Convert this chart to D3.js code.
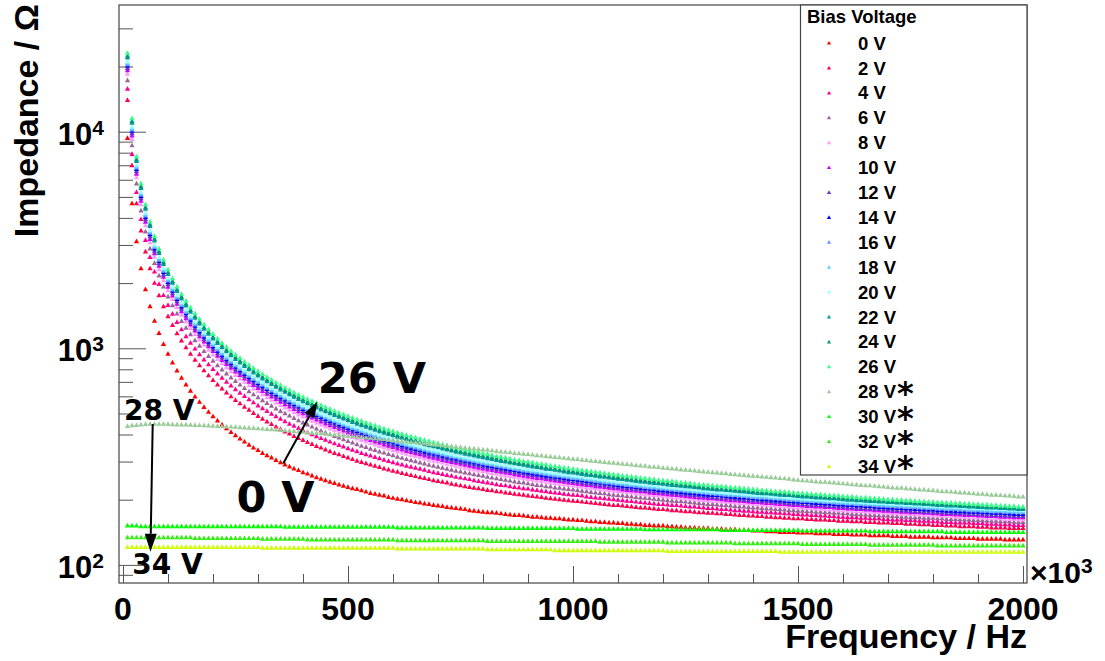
<!DOCTYPE html>
<html>
<head>
<meta charset="utf-8">
<script src="https://d3js.org/d3.v7.min.js"></script>
<style>
body { margin: 0; background: #ffffff; }
</style>
</head>
<body>
<script>
// bias voltages, one graph each
var volts = [0, 2, 4, 6, 8, 10, 12, 14, 16, 18, 20, 22, 24, 26, 28, 30, 32, 34];
var colours = ["#ff0000", "#ff0050", "#ff0090", "#9a659a", "#ff99ff", "#cc00ff", "#6633cc", "#0000ff", "#6699ff",
               "#66ccff", "#99ffff", "#009999", "#009977", "#33ff88", "#99cc99", "#00ff00", "#33ee11", "#ccff00"];
var starred = [28, 30, 32, 34];   // legend entries with the asterisk

// frequency sweep in kHz (x axis is x10^3 Hz)
var freqKHz = d3.range(10, 2001, 10);

var xMajor = [0, 500, 1000, 1500, 2000];
var xLabels = ["0", "500", "1000", "1500", "2000"];
var yMajor = [100, 1000, 10000];
var yExp = ["2", "3", "4"];

// impedance in Ohm, one value per frequency point
var z0 = [9350,4680,3120,2340,1875,1564,1342,1176,1047,944,
860,790,731,681,637,599,566,536,509,486,
464,445,427,411,397,383,371,359,348,339,
329,321,313,305,298,291,285,279,274,268,
264,259,254,250,246,242,239,235,232,229,
226,224,221,218,215,213,211,209,206,204,
202,201,199,197,195,194,192,191,189,188,
187,185,184,183,182,181,179,178,177,176,
175,175,174,173,172,171,170,170,169,168,
167,167,166,165,165,164,164,163,162,162,
161,161,160,159,159,158,158,157,157,156,
156,155,155,154,154,153,153,152,152,152,
151,151,150,150,149,149,149,148,148,148,
147,147,147,146,146,146,145,145,145,144,
144,144,143,143,143,142,142,142,142,141,
141,141,141,140,140,140,140,139,139,139,
139,138,138,138,138,137,137,137,137,137,
136,136,136,136,135,135,135,135,135,134,
134,134,134,134,133,133,133,133,133,132,
132,132,132,132,132,131,131,131,131,131];

var z2 = [14000,7000,4670,3500,2800,2340,2005,1756,1562,1407,
1281,1175,1086,1010,944,886,835,791,750,714,
681,652,625,600,577,557,537,520,503,487,
473,459,447,435,424,413,404,394,385,377,
369,362,354,348,341,335,329,324,318,313,
308,303,299,295,291,287,283,279,276,272,
269,266,263,260,257,254,252,249,246,244,
242,240,237,235,233,231,229,227,226,224,
222,221,219,218,216,215,213,212,211,209,
208,207,206,204,203,202,201,200,199,198,
197,196,195,194,193,192,191,190,189,189,
188,187,186,185,184,184,183,182,181,181,
180,179,179,178,177,177,176,175,175,174,
174,173,173,172,172,171,170,170,169,169,
168,168,167,167,166,166,165,165,164,164,
164,163,163,162,162,162,161,161,160,160,
160,159,159,159,158,158,158,157,157,157,
156,156,156,155,155,155,154,154,154,153,
153,153,152,152,152,151,151,151,151,150,
150,150,149,149,149,149,148,148,148,148];

var z4 = [15800,7900,5270,3950,3163,2640,2260,1980,1761,1586,
1443,1324,1223,1138,1062,997,940,889,843,802,
765,732,701,673,647,624,602,582,563,545,
529,514,499,486,473,461,449,439,429,419,
410,401,393,385,378,371,364,358,352,346,
340,335,329,324,320,315,311,306,302,298,
294,291,287,284,281,278,275,271,268,266,
263,260,258,255,253,251,249,246,244,242,
240,238,236,234,233,231,229,228,226,225,
223,222,220,219,217,216,215,213,212,211,
210,209,207,206,205,204,203,202,201,200,
199,198,197,196,195,194,193,192,191,191,
190,189,189,188,187,186,186,185,184,183,
183,182,181,181,180,179,179,178,178,177,
176,176,175,175,174,174,173,173,172,172,
171,171,170,170,169,169,168,168,167,167,
166,166,166,165,165,164,164,164,163,163,
162,162,162,161,161,161,160,160,160,159,
159,158,158,158,157,157,157,157,156,156,
156,155,155,155,154,154,154,153,153,153];

var z6 = [17300,8650,5770,4330,3463,2890,2475,2167,1927,1736,
1579,1449,1338,1244,1162,1090,1028,971,921,876,
836,799,765,734,706,680,656,634,613,594,
576,559,543,528,514,501,489,477,465,455,
445,435,426,417,409,401,394,387,380,373,
367,361,355,350,344,339,334,330,325,321,
316,312,308,304,301,297,294,290,287,284,
281,278,275,272,270,267,265,262,260,258,
255,253,251,249,247,245,243,241,240,238,
236,234,233,231,230,228,227,225,224,223,
221,220,219,217,216,215,214,212,211,210,
209,208,207,206,205,204,203,202,201,200,
199,198,197,197,196,195,194,193,192,191,
191,190,189,189,188,187,186,186,185,184,
184,183,182,182,181,181,180,179,179,178,
178,177,177,176,176,175,175,174,174,173,
173,172,172,171,171,170,170,169,169,169,
168,168,167,167,166,166,166,165,165,165,
164,164,163,163,163,162,162,162,161,161,
161,160,160,160,159,159,159,158,158,158];

var z8 = [18500,9250,6170,4630,3703,3090,2647,2317,2061,1855,
1688,1548,1430,1329,1241,1165,1097,1038,984,936,
892,853,817,784,753,726,700,676,653,633,
613,595,578,562,547,533,520,507,495,484,
473,463,453,444,435,426,418,410,403,396,
389,383,377,371,365,360,354,349,344,339,
334,330,326,322,318,314,310,306,303,300,
297,293,290,287,284,281,278,276,273,271,
268,266,264,261,259,257,255,253,251,249,
247,245,244,242,240,239,237,236,234,233,
231,230,228,227,226,224,223,222,220,219,
218,217,216,214,213,212,211,210,209,208,
207,206,205,204,203,202,201,200,199,199,
198,197,196,196,195,194,193,193,192,191,
190,190,189,188,188,187,186,186,185,184,
184,183,183,182,181,181,180,180,179,179,
178,178,177,177,176,176,175,175,174,174,
173,173,172,172,172,171,171,170,170,169,
169,169,168,168,167,167,167,166,166,166,
165,165,164,164,164,163,163,163,162,162];

var z10 = [19200,9600,6400,4800,3843,3200,2747,2404,2138,1925,
1751,1606,1484,1378,1288,1208,1138,1076,1021,971,
925,884,847,813,781,752,725,700,677,656,
636,617,599,583,567,552,538,525,512,501,
489,479,469,459,450,441,433,425,417,409,
402,396,389,383,377,371,366,360,355,350,
345,341,336,332,328,324,320,316,312,309,
305,302,299,296,293,290,287,284,281,279,
276,274,271,269,267,265,262,260,258,256,
254,252,251,249,247,245,244,242,240,239,
237,236,234,233,231,230,229,227,226,225,
223,222,221,220,219,218,216,215,214,213,
212,211,210,209,208,207,206,205,204,203,
203,202,201,200,199,199,198,197,196,195,
195,194,193,193,192,191,191,190,189,189,
188,187,187,186,186,185,185,184,183,183,
182,182,181,181,180,180,179,179,178,178,
177,177,176,176,175,175,175,174,174,173,
173,172,172,172,171,171,170,170,170,169,
169,168,168,168,167,167,167,166,166,166];

var z12 = [19700,9850,6570,4930,3943,3290,2818,2467,2194,1975,
1797,1648,1522,1414,1321,1239,1168,1103,1047,995,
949,907,868,833,801,771,744,718,694,672,
652,632,614,597,581,566,551,538,525,513,
501,490,480,470,461,452,443,435,427,419,
412,405,398,392,386,380,374,369,363,358,
353,349,344,340,335,331,327,323,319,316,
312,309,305,302,299,296,293,290,287,285,
282,280,277,275,272,270,268,266,264,262,
260,258,256,254,252,250,248,247,245,243,
242,240,239,237,236,234,233,231,230,229,
227,226,225,224,223,221,220,219,218,217,
216,215,214,213,212,211,210,209,208,207,
206,205,204,204,203,202,201,200,199,199,
198,197,197,196,195,195,194,193,192,192,
191,190,190,189,189,188,187,187,186,186,
185,184,184,183,183,182,182,181,181,180,
180,179,179,178,178,177,177,176,176,176,
175,175,174,174,174,173,173,172,172,172,
171,171,170,170,170,169,169,168,168,168];

var z14 = [20200,10100,6730,5050,4043,3370,2890,2529,2249,2025,
1842,1689,1561,1450,1355,1271,1197,1131,1073,1020,
973,930,890,854,821,790,762,736,712,689,
668,648,629,612,595,580,565,551,538,525,
514,502,492,482,472,462,454,445,437,429,
422,415,408,401,395,389,383,377,372,367,
362,357,352,347,343,339,334,330,327,323,
319,316,312,309,306,303,300,297,294,291,
288,286,283,281,278,276,274,271,269,267,
265,263,261,259,257,255,254,252,250,249,
247,246,244,243,241,240,238,237,235,234,
232,231,230,229,227,226,225,224,222,221,
220,219,218,217,216,215,214,213,212,211,
210,210,209,208,207,206,205,205,204,203,
202,201,201,200,199,199,198,197,196,196,
195,195,194,193,193,192,192,191,190,190,
189,189,188,188,187,187,186,185,185,184,
184,183,183,182,182,181,181,180,180,180,
179,179,178,178,177,177,177,176,176,176,
175,175,174,174,174,173,173,172,172,172];

var z16 = [20500,10250,6830,5130,4103,3420,2933,2567,2283,2055,
1870,1714,1584,1471,1375,1289,1215,1148,1089,1036,
987,943,903,867,833,802,773,747,722,699,
678,657,639,621,604,588,573,559,546,533,
521,510,499,489,479,469,460,452,444,436,
428,421,414,407,401,395,389,383,377,372,
367,362,357,353,348,344,340,335,331,328,
324,320,317,314,310,307,304,301,298,295,
292,290,287,285,283,280,278,276,273,271,
269,267,265,263,261,259,258,256,254,252,
251,249,248,246,244,243,241,240,238,237,
236,234,233,232,231,229,228,227,226,225,
224,223,222,221,220,219,218,217,216,215,
214,213,212,211,210,210,209,208,207,206,
205,205,204,203,203,202,201,200,200,199,
198,198,197,197,196,195,195,194,193,193,
192,192,191,191,190,190,189,188,188,187,
187,186,186,185,185,185,184,184,183,183,
182,182,181,181,181,180,180,179,179,179,
178,178,177,177,177,176,176,176,175,175];

var z18 = [20800,10400,6930,5200,4163,3470,2975,2604,2316,2085,
1897,1739,1607,1493,1395,1309,1233,1166,1105,1051,
1002,957,917,880,845,814,785,758,733,709,
688,667,648,630,613,597,582,567,554,541,
529,517,506,496,486,476,467,458,450,442,
434,427,420,413,407,400,394,389,383,377,
372,367,362,358,353,349,344,340,336,332,
328,325,321,318,315,312,308,305,302,300,
297,294,292,289,287,284,282,279,277,275,
273,271,269,267,265,263,261,259,258,256,
254,253,251,249,248,246,245,243,242,240,
239,238,236,235,234,232,231,230,229,228,
227,226,225,224,222,221,220,219,218,217,
216,216,215,214,213,212,211,210,210,209,
208,207,207,206,205,204,204,203,202,201,
201,200,199,199,198,198,197,196,196,195,
194,194,193,193,192,192,191,191,190,190,
189,189,188,188,187,187,186,186,185,185,
184,184,183,183,183,182,182,181,181,181,
180,180,179,179,179,178,178,177,177,177];

var z20 = [21100,10550,7030,5280,4223,3520,3018,2642,2349,2115,
1924,1764,1630,1514,1415,1328,1250,1182,1121,1066,
1016,971,930,892,857,825,796,768,743,719,
697,676,657,638,621,605,590,575,561,548,
536,524,513,502,492,483,473,465,456,448,
440,433,426,419,412,406,400,394,388,382,
377,372,367,362,358,353,349,345,341,337,
333,329,326,322,319,316,312,309,306,303,
300,298,295,292,290,287,285,283,280,278,
276,274,272,270,268,266,264,262,261,259,
257,256,254,253,251,249,248,246,245,243,
242,241,239,238,237,235,234,233,232,230,
229,228,227,226,225,224,223,222,221,220,
219,218,217,216,216,215,214,213,212,211,
210,210,209,208,207,207,206,205,204,204,
203,202,202,201,201,200,199,199,198,198,
197,196,196,195,195,194,194,193,193,192,
192,191,191,190,190,189,189,188,188,187,
187,186,186,186,185,185,184,184,183,183,
183,182,182,181,181,181,180,180,180,179];

var z22 = [22000,11000,7330,5500,4403,3670,3147,2754,2449,2205,
2006,1839,1699,1578,1475,1383,1303,1231,1168,1110,
1058,1011,968,929,893,860,829,800,774,749,
726,704,684,665,646,630,614,598,584,570,
557,545,533,522,512,502,492,483,474,465,
457,449,441,434,428,421,414,408,402,397,
391,386,381,376,371,366,361,357,353,349,
345,341,337,333,330,326,323,320,317,314,
311,308,305,302,300,297,295,292,290,287,
285,283,281,278,277,275,273,270,268,267,
265,263,261,260,258,256,255,253,252,250,
249,247,246,244,243,242,240,239,238,237,
235,234,233,232,231,230,229,228,226,225,
224,223,223,222,221,220,219,218,217,216,
215,214,214,213,212,211,210,210,209,208,
207,207,206,205,205,204,203,203,202,201,
200,200,199,199,198,197,197,196,196,195,
195,194,194,193,193,192,192,191,191,190,
189,189,188,188,188,187,187,186,186,185,
185,184,184,184,183,183,182,182,181,181];

var z24 = [22400,11200,7470,5600,4483,3740,3204,2804,2494,2245,
2042,1873,1730,1607,1501,1408,1327,1253,1189,1130,
1077,1030,986,946,909,875,844,814,787,762,
739,717,696,676,658,641,624,609,594,580,
567,555,543,531,521,510,500,491,482,473,
465,457,449,442,435,428,421,415,409,403,
397,392,386,381,377,372,367,363,358,354,
350,346,342,339,335,332,328,325,322,319,
316,313,310,307,304,301,299,296,294,292,
289,287,285,282,281,278,276,274,272,271,
269,267,265,263,262,260,258,257,255,254,
252,251,249,248,247,245,244,243,241,240,
239,238,236,235,234,233,232,231,229,228,
227,226,225,224,223,223,222,221,220,219,
218,217,216,216,215,214,213,212,211,211,
210,209,209,208,207,206,206,205,204,204,
203,202,202,201,201,200,199,199,198,198,
197,196,196,195,195,194,194,193,193,192,
192,191,191,190,190,189,189,188,188,187,
187,186,186,185,185,185,184,184,183,183];

var z26 = [23100,11550,7700,5780,4623,3853,3304,2892,2572,2315,
2106,1931,1784,1657,1548,1452,1368,1292,1226,1165,
1111,1061,1016,975,937,902,870,840,812,786,
761,738,717,697,678,660,643,627,612,598,
584,571,559,547,536,526,515,506,496,487,
479,471,463,455,448,441,434,427,421,415,
409,403,398,393,388,383,378,373,369,365,
361,357,352,349,345,341,338,334,331,328,
325,322,318,316,313,310,307,305,302,300,
298,295,293,291,288,286,284,282,280,278,
276,274,273,271,269,267,266,264,262,261,
259,258,256,255,253,252,250,249,247,246,
245,244,242,241,240,239,237,236,235,234,
233,232,231,230,229,228,227,226,225,224,
223,222,221,220,219,219,218,217,216,215,
215,214,213,212,212,211,210,210,209,208,
207,207,206,205,205,204,203,203,202,201,
201,200,200,199,199,198,197,197,196,196,
195,195,194,194,193,193,192,192,191,191,
190,190,189,189,188,188,187,187,186,186];

var z28 = [438,441,443,445,447,448,448,448,448,447,
446,445,445,445,444,443,442,441,440,439,
438,437,436,435,434,432,431,430,429,427,
426,424,423,422,420,418,417,415,413,412,
410,408,407,405,403,402,400,398,396,395,
393,391,389,387,386,384,382,380,378,377,
375,373,371,369,368,366,364,362,360,359,
357,355,353,351,350,348,346,345,343,341,
340,338,336,334,333,331,329,328,326,325,
323,321,320,318,317,315,314,312,311,309,
308,306,305,303,302,300,299,297,296,295,
293,292,291,289,288,287,285,284,283,281,
280,279,278,276,275,274,273,271,270,269,
268,267,266,265,263,262,261,260,259,258,
257,256,255,254,253,252,251,250,248,247,
246,245,244,243,242,242,241,240,239,238,
237,236,235,234,233,233,232,231,230,229,
228,227,227,226,225,224,223,223,222,221,
220,219,219,218,217,216,216,215,214,213,
213,212,211,211,210,209,209,208,207,207];

var z30 = [152,152,152,151,151,151,151,151,151,151,
151,151,151,151,151,151,151,151,151,151,
151,151,151,151,151,151,151,151,151,151,
151,151,151,151,151,150,150,150,150,150,
150,150,150,150,150,150,150,150,150,150,
150,150,150,150,150,150,150,150,150,150,
149,149,149,149,149,149,149,149,149,149,
149,149,149,149,149,149,149,149,149,149,
148,148,148,148,148,148,148,148,148,148,
148,148,148,148,148,148,148,148,148,148,
147,147,147,147,147,147,147,147,147,147,
147,147,147,147,147,146,146,146,146,146,
146,146,146,146,146,146,146,146,146,146,
146,146,145,145,145,145,145,145,145,145,
145,145,145,145,145,145,145,145,145,145,
144,144,144,144,144,144,144,144,144,144,
144,144,144,144,144,143,143,143,143,143,
143,143,143,143,143,143,143,143,143,143,
143,143,142,142,142,142,142,142,142,142,
142,142,142,142,142,142,142,142,142,142];

var z32 = [134,134,134,134,134,134,134,134,134,134,
134,134,134,134,134,133,133,133,133,133,
133,133,133,133,133,133,133,133,133,133,
132,132,132,132,132,132,132,132,132,132,
131,131,131,131,131,131,131,131,131,131,
131,131,131,131,131,131,131,131,131,131,
130,130,130,130,130,130,130,130,130,130,
130,130,130,130,130,130,130,130,130,130,
129,129,129,129,129,129,129,129,129,129,
129,129,129,129,129,129,129,129,129,129,
129,129,129,129,129,128,128,128,128,128,
128,128,128,128,128,128,128,128,128,128,
127,127,127,127,127,127,127,127,127,127,
127,127,127,127,127,126,126,126,126,126,
126,126,126,126,126,126,126,126,126,126,
125,125,125,125,125,125,125,125,125,125,
125,125,125,125,125,124,124,124,124,124,
124,124,124,124,124,124,124,124,124,124,
123,123,123,123,123,123,123,123,123,123,
123,123,123,123,123,123,123,123,123,123];

var z34 = [121,121,121,121,121,121,121,121,121,121,
121,121,121,121,121,121,121,121,121,121,
121,121,121,121,121,121,121,121,121,121,
120,120,120,120,120,120,120,120,120,120,
120,120,120,120,120,120,120,120,120,120,
120,120,120,120,120,120,120,120,120,120,
119,119,119,119,119,119,119,119,119,119,
119,119,119,119,119,119,119,119,119,119,
118,118,118,118,118,118,118,118,118,118,
118,118,118,118,118,117,117,117,117,117,
117,117,117,117,117,117,117,117,117,117,
117,117,117,117,117,117,117,117,117,117,
116,116,116,116,116,116,116,116,116,116,
116,116,116,116,116,116,116,116,116,116,
116,116,116,116,116,115,115,115,115,115,
115,115,115,115,115,115,115,115,115,115,
115,115,115,115,115,115,115,115,115,115,
115,115,115,115,115,115,115,115,115,115,
115,115,115,115,115,115,115,115,115,115,
115,115,115,115,115,115,115,115,115,115];

var series = [z0, z2, z4, z6, z8, z10, z12, z14, z16, z18, z20, z22, z24, z26, z28, z30, z32, z34];

var holder = d3.select("body")
      .append("svg")
      .attr("width", 1105)
      .attr("height", 661);

// frame box in pixels
var frameL = 119, frameR = 1027, frameT = 5, frameB = 583;

var x = d3.scaleLinear().domain([-8.9, 2008.9]).range([frameL, frameR]);
var y = d3.scaleLog().domain([82.5, 38460]).range([frameB, frameT]);

holder.append("rect")
    .attr("width", 1105).attr("height", 661)
    .style("fill", "#ffffff");

holder.append("clipPath").attr("id", "frameclip")
  .append("rect")
    .attr("x", frameL).attr("y", frameT)
    .attr("width", frameR - frameL).attr("height", frameB - frameT);

// ticks point inward like ROOT
var xMinor = d3.range(0, 2001, 100).filter(function(d) { return d % 500 !== 0; });
var yMinor = [];
[10, 100, 1000, 10000].forEach(function(dec) {
  for (var k = 2; k <= 9; k++) {
    var v = dec * k;
    if (v > 82.5 && v < 38460) yMinor.push(v);
  }
});

function tickStyle(g) {
  g.select(".domain").remove();
  g.selectAll("line").attr("stroke", "#555").attr("stroke-width", 1);
  g.selectAll("text").remove();
}

holder.append("g").attr("transform", "translate(0," + frameB + ")")
    .call(d3.axisBottom(x).tickValues(xMajor).tickSize(-17)).call(tickStyle);
holder.append("g").attr("transform", "translate(0," + frameB + ")")
    .call(d3.axisBottom(x).tickValues(xMinor).tickSize(-9)).call(tickStyle);
holder.append("g").attr("transform", "translate(" + frameL + ",0)")
    .call(d3.axisLeft(y).tickValues(yMajor).tickSize(-27)).call(tickStyle);
holder.append("g").attr("transform", "translate(" + frameL + ",0)")
    .call(d3.axisLeft(y).tickValues(yMinor).tickSize(-14)).call(tickStyle);

// markers: small filled triangles
var tri = "M0,-2.7L2.6,2L-2.6,2Z";
var plot = holder.append("g").attr("clip-path", "url(#frameclip)");

series.forEach(function(vals, s) {
  plot.append("g")
      .style("fill", colours[s])
    .selectAll("path")
      .data(vals)
      .enter().append("path")
      .attr("d", tri)
      .attr("transform", function(d, i) { return "translate(" + x(freqKHz[i]) + "," + y(d) + ")"; });
});

// frame
holder.append("rect")
    .attr("x", frameL).attr("y", frameT)
    .attr("width", frameR - frameL).attr("height", frameB - frameT)
    .style("fill", "none")
    .style("stroke", "#444")
    .style("stroke-width", 1.2);

// tick labels
var axisFont = "'Liberation Sans', Arial, Helvetica, sans-serif";
holder.selectAll(".xlab")
    .data(xMajor)
    .enter().append("text")
    .attr("class", "xlab")
    .attr("x", function(d) { return x(d); })
    .attr("y", 620)
    .attr("text-anchor", "middle")
    .style("font-family", axisFont)
    .style("font-weight", "bold")
    .style("font-size", "32px")
    .text(function(d, i) { return xLabels[i]; });

var ylab = holder.selectAll(".ylab")
    .data(yMajor)
    .enter().append("text")
    .attr("class", "ylab")
    .attr("x", 104)
    .attr("y", function(d) { return y(d) + 13; })
    .attr("text-anchor", "end")
    .style("font-family", axisFont)
    .style("font-weight", "bold")
    .style("font-size", "31px");
ylab.append("tspan").text("10");
ylab.append("tspan").attr("dy", -10).style("font-size", "21px").text(function(d, i) { return yExp[i]; });

// x10^3 multiplier
var mult = holder.append("text")
    .attr("x", 1030).attr("y", 583)
    .style("font-family", axisFont)
    .style("font-weight", "bold")
    .style("font-size", "30px");
mult.append("tspan").text("\u00d710");
mult.append("tspan").attr("dy", -10).style("font-size", "21px").text("3");

// axis titles
holder.append("text")
    .attr("x", frameR).attr("y", 648)
    .attr("text-anchor", "end")
    .style("font-family", axisFont)
    .style("font-weight", "bold")
    .style("font-size", "34px")
    .text("Frequency / Hz");

holder.append("text")
    .attr("transform", "translate(38,4) rotate(-90)")
    .attr("text-anchor", "end")
    .style("font-family", axisFont)
    .style("font-weight", "bold")
    .style("font-size", "34px")
    .text("Impedance / \u03a9");

// legend
holder.append("rect")
    .attr("x", 800.5).attr("y", 5)
    .attr("width", frameR - 800.5).attr("height", 470)
    .style("fill", "#ffffff")
    .style("stroke", "#444")
    .style("stroke-width", 1.2);

holder.append("text")
    .attr("x", 807).attr("y", 23)
    .style("font-family", axisFont)
    .style("font-weight", "bold")
    .style("font-size", "18.5px")
    .text("Bias Voltage");

var entry = holder.selectAll(".entry")
    .data(volts)
    .enter().append("g")
    .attr("class", "entry")
    .attr("transform", function(d, i) { return "translate(0," + (43 + i * 24.9) + ")"; });

entry.append("path")
    .attr("d", "M0,-2.1L2.1,1.6L-2.1,1.6Z")
    .attr("transform", "translate(829,0)")
    .style("fill", function(d, i) { return colours[i]; });

var entryText = entry.append("text")
    .attr("x", 858).attr("y", 6.6)
    .style("font-family", axisFont)
    .style("font-weight", "bold")
    .style("font-size", "18.5px")
    .text(function(d) { return d + " V"; });

// raised asterisk on the last four entries
entryText.filter(function(d) { return starred.indexOf(d) >= 0; })
  .append("tspan")
    .attr("dx", 1).attr("dy", 5.4)
    .style("font-family", "'DejaVu Sans', sans-serif")
    .style("font-size", "32px")
    .text("*");

// annotations
var noteFont = "'DejaVu Sans', sans-serif";
function note(txt, f, z, size) {
  holder.append("text")
      .attr("x", x(f)).attr("y", y(z))
      .style("font-family", noteFont)
      .style("font-weight", "bold")
      .style("font-size", size + "px")
      .text(txt);
}
note("26 V", 433, 620, 43);
note("0 V", 252, 176, 43);
note("28 V", 2.2, 467, 28);
note("34 V", 20.7, 90.8, 28);

function arrow(f1, z1, f2, z2, headLen, headHalf) {
  var x1 = x(f1), y1 = y(z1), x2 = x(f2), y2 = y(z2);
  var dx = x2 - x1, dy = y2 - y1, len = Math.sqrt(dx * dx + dy * dy);
  var ux = dx / len, uy = dy / len;
  var bx = x2 - ux * headLen, by = y2 - uy * headLen;
  holder.append("line")
      .attr("x1", x1).attr("y1", y1)
      .attr("x2", bx).attr("y2", by)
      .style("stroke", "#000")
      .style("stroke-width", 2);
  holder.append("path")
      .attr("d", "M" + x2 + "," + y2 +
                 "L" + (bx - uy * headHalf) + "," + (by + ux * headHalf) +
                 "L" + (bx + uy * headHalf) + "," + (by - ux * headHalf) + "Z")
      .style("fill", "#000");
}
arrow(356, 294, 431.8, 567, 16, 5.5);
arrow(66, 447, 61, 115, 18, 6);
</script>
</body>
</html>
